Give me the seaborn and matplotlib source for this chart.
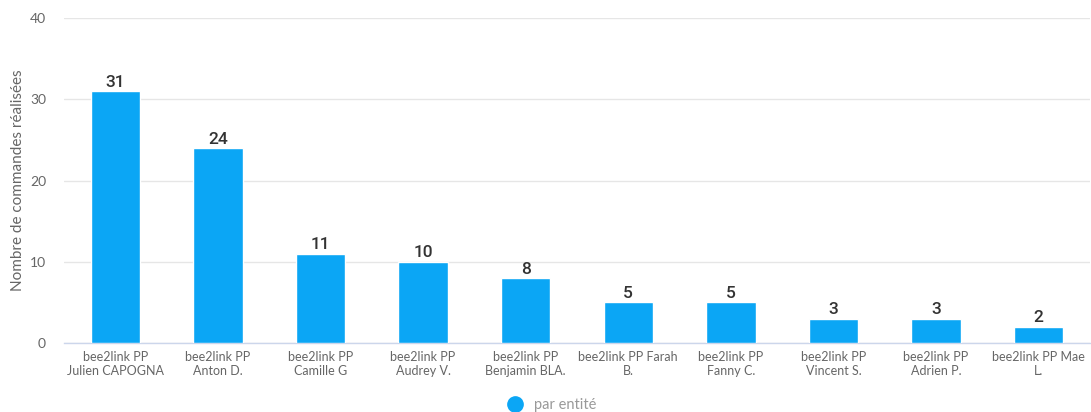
import matplotlib
matplotlib.use("Agg")
import matplotlib.pyplot as plt
from matplotlib.lines import Line2D
import seaborn as sns
import pandas as pd

categories = [
    "bee2link PP\nJulien CAPOGNA",
    "bee2link PP\nAnton D.",
    "bee2link PP\nCamille G",
    "bee2link PP\nAudrey V.",
    "bee2link PP\nBenjamin BLA.",
    "bee2link PP Farah\nB.",
    "bee2link PP\nFanny C.",
    "bee2link PP\nVincent S.",
    "bee2link PP\nAdrien P.",
    "bee2link PP Mae\nL.",
]
values = [31, 24, 11, 10, 8, 5, 5, 3, 3, 2]
yticks = [0, 10, 20, 30, 40]
series_name = "par entité"
y_label = "Nombre de commandes réalisées"

sns.set_theme(style="white")
plt.rcParams["font.family"] = ["Lato", "DejaVu Sans"]

df = pd.DataFrame({"cat": categories, "val": values})
bar_color = "#0ba6f5"

fig = plt.figure(figsize=(10.91, 4.12), dpi=100)
ax = fig.add_axes([64 / 1091, 69 / 412, (1090 - 64) / 1091, (343 - 18) / 412])
sns.barplot(data=df, x="cat", y="val", color=bar_color, width=0.48,
            saturation=1, ax=ax, zorder=3)

ax.set_xlim(-0.5, len(categories) - 0.5)
ax.set_ylim(0, 40)
ax.set_yticks(yticks)
ax.set_yticklabels([str(t) for t in yticks], fontsize=10, color="#666666")
ax.tick_params(axis="y", length=0, pad=13)
ax.tick_params(axis="x", length=0, pad=6, labelsize=9, labelcolor="#666666")
for lab in ax.get_xticklabels():
    lab.set_linespacing(1.15)
ax.grid(axis="y", color="#e6e6e6", linewidth=1, zorder=0)
for s in ["top", "right", "left"]:
    ax.spines[s].set_visible(False)
ax.spines["bottom"].set_color("#ccd6eb")
ax.spines["bottom"].set_linewidth(1)
ax.set_xlabel("")
ax.set_ylabel(y_label, fontsize=11, color="#666666")
ax.yaxis.set_label_coords((25 - 64) / 1026, 0.5)

for cont in ax.containers:
    ax.bar_label(cont, labels=[str(v) for v in values], padding=1,
                 fontsize=12.5, fontweight="medium", color="#333333",
                 family=["Roboto", "DejaVu Sans"])

handle = Line2D([], [], marker="o", linestyle="none", markersize=11,
                markerfacecolor=bar_color, markeredgecolor=bar_color)
fig.legend([handle], [series_name], loc="center", bbox_to_anchor=(548 / 1091, 1 - 405 / 412),
           frameon=False, fontsize=10.5, labelcolor="#999999", handletextpad=0.3)

fig.savefig("out.png", dpi=100)
